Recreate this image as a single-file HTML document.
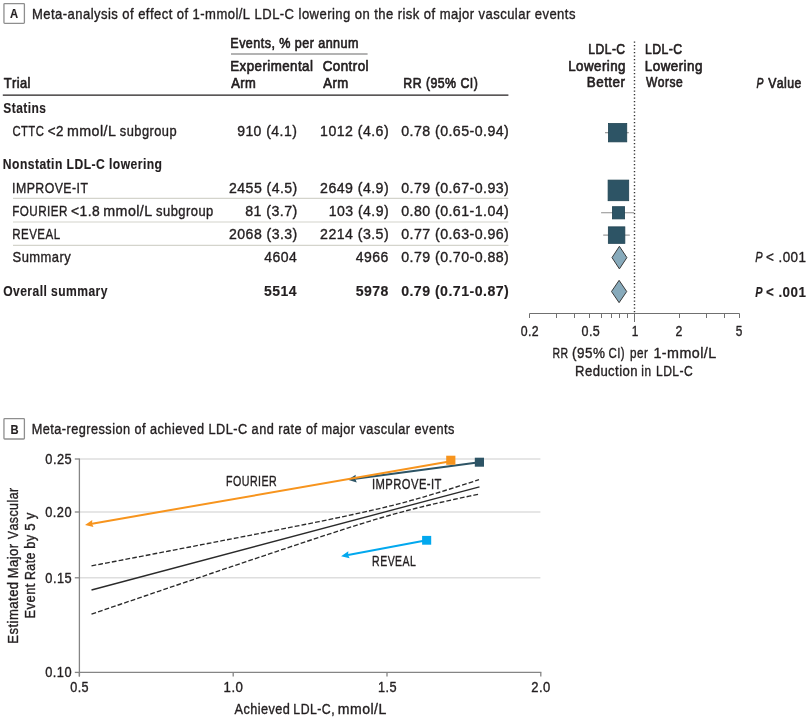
<!DOCTYPE html>
<html><head><meta charset="utf-8"><title>Figure</title>
<style>
html,body{margin:0;padding:0;background:#fff;}
body{width:810px;height:721px;overflow:hidden;}
svg{display:block;font-family:"Liberation Sans",sans-serif;font-kerning:none;font-variant-ligatures:none;will-change:transform;}
text{font-kerning:none;}
</style></head><body>
<svg width="810" height="721" viewBox="0 0 810 721">
<rect width="810" height="721" fill="#fff"/>
<rect x="3.95" y="3.55" width="20.45" height="19.85" rx="0.8" fill="none" stroke="#8e8e8e" stroke-width="1.3"/>
<text transform="scale(0.8336,1)" x="12.11" y="18.10" font-size="13.5" font-weight="bold" font-style="normal" letter-spacing="0.000" fill="#231f20" stroke="#231f20" stroke-width="0.15" stroke-linejoin="round">A</text>
<text transform="scale(0.8808,1)" x="36.36" y="18.60" font-size="14.8" font-weight="normal" font-style="normal" letter-spacing="0.511" fill="#231f20" stroke="#231f20" stroke-width="0.38" stroke-linejoin="round">Meta-analysis of effect of 1-mmol/L LDL-C lowering on the risk of major vascular events</text>
<text transform="scale(0.8372,1)" x="275.12" y="48.40" font-size="15" font-weight="normal" font-style="normal" letter-spacing="0.538" fill="#231f20" stroke="#231f20" stroke-width="0.7" stroke-linejoin="round">Events, % per annum</text>
<line x1="231" y1="54" x2="367.6" y2="54" stroke="#9a9a9a" stroke-width="1.5"/>
<text transform="scale(0.8880,1)" x="259.30" y="70.60" font-size="15" font-weight="normal" font-style="normal" letter-spacing="0.507" fill="#231f20" stroke="#231f20" stroke-width="0.7" stroke-linejoin="round">Experimental</text>
<text transform="scale(0.8929,1)" x="361.37" y="70.60" font-size="15" font-weight="normal" font-style="normal" letter-spacing="0.504" fill="#231f20" stroke="#231f20" stroke-width="0.7" stroke-linejoin="round">Control</text>
<text transform="scale(0.8611,1)" x="268.63" y="87.60" font-size="15" font-weight="normal" font-style="normal" letter-spacing="0.523" fill="#231f20" stroke="#231f20" stroke-width="0.7" stroke-linejoin="round">Arm</text>
<text transform="scale(0.8762,1)" x="368.99" y="87.60" font-size="15" font-weight="normal" font-style="normal" letter-spacing="0.514" fill="#231f20" stroke="#231f20" stroke-width="0.7" stroke-linejoin="round">Arm</text>
<text transform="scale(0.8589,1)" x="4.26" y="87.70" font-size="15" font-weight="normal" font-style="normal" letter-spacing="0.524" fill="#231f20" stroke="#231f20" stroke-width="0.7" stroke-linejoin="round">Trial</text>
<text transform="scale(0.8232,1)" x="489.99" y="88.00" font-size="15" font-weight="normal" font-style="normal" letter-spacing="0.547" fill="#231f20" stroke="#231f20" stroke-width="0.7" stroke-linejoin="round">RR (95% CI)</text>
<line x1="2.8" y1="95.2" x2="508.4" y2="95.2" stroke="#231f20" stroke-width="1.3"/>
<text transform="scale(0.7996,1)" x="4.16" y="113.50" font-size="15" font-weight="bold" font-style="normal" letter-spacing="0.563" fill="#231f20" stroke="#231f20" stroke-width="0.15" stroke-linejoin="round">Statins</text>
<text transform="scale(0.7622,1)" x="16.29" y="136.50" font-size="14.8" font-weight="normal" font-style="normal" letter-spacing="0.590" fill="#231f20" stroke="#231f20" stroke-width="0.38" stroke-linejoin="round">CTTC</text>
<text transform="scale(0.9072,1)" x="52.72" y="136.50" font-size="14.8" font-weight="normal" font-style="normal" letter-spacing="0.496" fill="#231f20" stroke="#231f20" stroke-width="0.38" stroke-linejoin="round">&lt;2</text>
<text transform="scale(0.9623,1)" x="69.57" y="136.50" font-size="14.8" font-weight="normal" font-style="normal" letter-spacing="0.468" fill="#231f20" stroke="#231f20" stroke-width="0.38" stroke-linejoin="round">mmol/L</text>
<text transform="scale(0.8696,1)" x="137.80" y="136.50" font-size="14.8" font-weight="normal" font-style="normal" letter-spacing="0.517" fill="#231f20" stroke="#231f20" stroke-width="0.38" stroke-linejoin="round">subgroup</text>
<text transform="scale(0.9479,1)" x="250.18" y="136.50" font-size="14.8" font-weight="normal" font-style="normal" letter-spacing="0.475" fill="#231f20" stroke="#231f20" stroke-width="0.38" stroke-linejoin="round">910 (4.1)</text>
<text transform="scale(0.9564,1)" x="334.70" y="136.50" font-size="14.8" font-weight="normal" font-style="normal" letter-spacing="0.471" fill="#231f20" stroke="#231f20" stroke-width="0.38" stroke-linejoin="round">1012 (4.6)</text>
<text transform="scale(0.9581,1)" x="418.77" y="136.50" font-size="14.8" font-weight="normal" font-style="normal" letter-spacing="0.470" fill="#231f20" stroke="#231f20" stroke-width="0.38" stroke-linejoin="round">0.78 (0.65-0.94)</text>
<text transform="scale(0.8087,1)" x="3.54" y="169.40" font-size="15" font-weight="bold" font-style="normal" letter-spacing="0.556" fill="#231f20" stroke="#231f20" stroke-width="0.15" stroke-linejoin="round">Nonstatin LDL-C lowering</text>
<text transform="scale(0.8339,1)" x="14.45" y="192.80" font-size="14.8" font-weight="normal" font-style="normal" letter-spacing="0.540" fill="#231f20" stroke="#231f20" stroke-width="0.38" stroke-linejoin="round">IMPROVE-IT</text>
<text transform="scale(0.9508,1)" x="240.93" y="192.80" font-size="14.8" font-weight="normal" font-style="normal" letter-spacing="0.473" fill="#231f20" stroke="#231f20" stroke-width="0.38" stroke-linejoin="round">2455 (4.5)</text>
<text transform="scale(0.9569,1)" x="334.49" y="192.80" font-size="14.8" font-weight="normal" font-style="normal" letter-spacing="0.470" fill="#231f20" stroke="#231f20" stroke-width="0.38" stroke-linejoin="round">2649 (4.9)</text>
<text transform="scale(0.9581,1)" x="418.77" y="192.80" font-size="14.8" font-weight="normal" font-style="normal" letter-spacing="0.470" fill="#231f20" stroke="#231f20" stroke-width="0.38" stroke-linejoin="round">0.79 (0.67-0.93)</text>
<text transform="scale(0.7886,1)" x="15.51" y="216.40" font-size="14.8" font-weight="normal" font-style="normal" letter-spacing="0.571" fill="#231f20" stroke="#231f20" stroke-width="0.38" stroke-linejoin="round">FOURIER</text>
<text transform="scale(0.9363,1)" x="75.84" y="216.40" font-size="14.8" font-weight="normal" font-style="normal" letter-spacing="0.481" fill="#231f20" stroke="#231f20" stroke-width="0.38" stroke-linejoin="round">&lt;1.8</text>
<text transform="scale(0.9644,1)" x="107.05" y="216.40" font-size="14.8" font-weight="normal" font-style="normal" letter-spacing="0.467" fill="#231f20" stroke="#231f20" stroke-width="0.38" stroke-linejoin="round">mmol/L</text>
<text transform="scale(0.8762,1)" x="178.19" y="216.40" font-size="14.8" font-weight="normal" font-style="normal" letter-spacing="0.514" fill="#231f20" stroke="#231f20" stroke-width="0.38" stroke-linejoin="round">subgroup</text>
<text transform="scale(0.9601,1)" x="255.37" y="216.40" font-size="14.8" font-weight="normal" font-style="normal" letter-spacing="0.469" fill="#231f20" stroke="#231f20" stroke-width="0.38" stroke-linejoin="round">81 (3.7)</text>
<text transform="scale(0.9515,1)" x="345.46" y="216.40" font-size="14.8" font-weight="normal" font-style="normal" letter-spacing="0.473" fill="#231f20" stroke="#231f20" stroke-width="0.38" stroke-linejoin="round">103 (4.9)</text>
<text transform="scale(0.9581,1)" x="418.77" y="216.40" font-size="14.8" font-weight="normal" font-style="normal" letter-spacing="0.470" fill="#231f20" stroke="#231f20" stroke-width="0.38" stroke-linejoin="round">0.80 (0.61-1.04)</text>
<text transform="scale(0.7825,1)" x="15.64" y="239.40" font-size="14.8" font-weight="normal" font-style="normal" letter-spacing="0.575" fill="#231f20" stroke="#231f20" stroke-width="0.38" stroke-linejoin="round">REVEAL</text>
<text transform="scale(0.9508,1)" x="240.93" y="239.40" font-size="14.8" font-weight="normal" font-style="normal" letter-spacing="0.473" fill="#231f20" stroke="#231f20" stroke-width="0.38" stroke-linejoin="round">2068 (3.3)</text>
<text transform="scale(0.9569,1)" x="334.49" y="239.40" font-size="14.8" font-weight="normal" font-style="normal" letter-spacing="0.470" fill="#231f20" stroke="#231f20" stroke-width="0.38" stroke-linejoin="round">2214 (3.5)</text>
<text transform="scale(0.9581,1)" x="418.77" y="239.40" font-size="14.8" font-weight="normal" font-style="normal" letter-spacing="0.470" fill="#231f20" stroke="#231f20" stroke-width="0.38" stroke-linejoin="round">0.77 (0.63-0.96)</text>
<text transform="scale(0.8771,1)" x="14.37" y="262.00" font-size="14.8" font-weight="normal" font-style="normal" letter-spacing="0.513" fill="#231f20" stroke="#231f20" stroke-width="0.38" stroke-linejoin="round">Summary</text>
<text transform="scale(0.9477,1)" x="278.85" y="262.00" font-size="14.8" font-weight="normal" font-style="normal" letter-spacing="0.475" fill="#231f20" stroke="#231f20" stroke-width="0.38" stroke-linejoin="round">4604</text>
<text transform="scale(0.9479,1)" x="375.43" y="262.00" font-size="14.8" font-weight="normal" font-style="normal" letter-spacing="0.475" fill="#231f20" stroke="#231f20" stroke-width="0.38" stroke-linejoin="round">4966</text>
<text transform="scale(0.9581,1)" x="418.77" y="262.00" font-size="14.8" font-weight="normal" font-style="normal" letter-spacing="0.470" fill="#231f20" stroke="#231f20" stroke-width="0.38" stroke-linejoin="round">0.79 (0.70-0.88)</text>
<line x1="13" y1="198.4" x2="508.4" y2="198.4" stroke="#d4d4cc" stroke-width="1.2"/>
<line x1="13" y1="222" x2="508.4" y2="222" stroke="#d4d4cc" stroke-width="1.2"/>
<line x1="13" y1="245.4" x2="508.4" y2="245.4" stroke="#d4d4cc" stroke-width="1.2"/>
<text transform="scale(0.8059,1)" x="3.94" y="295.80" font-size="15" font-weight="bold" font-style="normal" letter-spacing="0.558" fill="#231f20" stroke="#231f20" stroke-width="0.15" stroke-linejoin="round">Overall summary</text>
<text transform="scale(0.9352,1)" x="282.34" y="295.80" font-size="15" font-weight="bold" font-style="normal" letter-spacing="0.481" fill="#231f20" stroke="#231f20" stroke-width="0.15" stroke-linejoin="round">5514</text>
<text transform="scale(0.9400,1)" x="378.34" y="295.80" font-size="15" font-weight="bold" font-style="normal" letter-spacing="0.479" fill="#231f20" stroke="#231f20" stroke-width="0.15" stroke-linejoin="round">5978</text>
<text transform="scale(0.9460,1)" x="424.03" y="295.80" font-size="15" font-weight="bold" font-style="normal" letter-spacing="0.476" fill="#231f20" stroke="#231f20" stroke-width="0.15" stroke-linejoin="round">0.79 (0.71-0.87)</text>
<text transform="scale(0.8064,1)" x="729.62" y="53.60" font-size="15" font-weight="normal" font-style="normal" letter-spacing="0.558" fill="#231f20" stroke="#231f20" stroke-width="0.7" stroke-linejoin="round">LDL-C</text>
<text transform="scale(0.8888,1)" x="639.35" y="71.00" font-size="15" font-weight="normal" font-style="normal" letter-spacing="0.506" fill="#231f20" stroke="#231f20" stroke-width="0.7" stroke-linejoin="round">Lowering</text>
<text transform="scale(0.8939,1)" x="656.52" y="87.40" font-size="15" font-weight="normal" font-style="normal" letter-spacing="0.503" fill="#231f20" stroke="#231f20" stroke-width="0.7" stroke-linejoin="round">Better</text>
<text transform="scale(0.8160,1)" x="790.35" y="53.60" font-size="15" font-weight="normal" font-style="normal" letter-spacing="0.551" fill="#231f20" stroke="#231f20" stroke-width="0.7" stroke-linejoin="round">LDL-C</text>
<text transform="scale(0.8956,1)" x="720.00" y="71.00" font-size="15" font-weight="normal" font-style="normal" letter-spacing="0.502" fill="#231f20" stroke="#231f20" stroke-width="0.7" stroke-linejoin="round">Lowering</text>
<text transform="scale(0.8051,1)" x="802.29" y="87.40" font-size="15" font-weight="normal" font-style="normal" letter-spacing="0.559" fill="#231f20" stroke="#231f20" stroke-width="0.7" stroke-linejoin="round">Worse</text>
<text transform="scale(0.6880,1)" x="1099.53" y="87.80" font-size="15" font-weight="normal" font-style="italic" letter-spacing="0.000" fill="#231f20" stroke="#231f20" stroke-width="0.7" stroke-linejoin="round">P</text>
<text transform="scale(0.8185,1)" x="938.59" y="87.80" font-size="15" font-weight="normal" font-style="normal" letter-spacing="0.550" fill="#231f20" stroke="#231f20" stroke-width="0.7" stroke-linejoin="round">Value</text>
<text transform="scale(0.7423,1)" x="1017.44" y="262.00" font-size="14.8" font-weight="normal" font-style="italic" letter-spacing="0.000" fill="#231f20" stroke="#231f20" stroke-width="0.38" stroke-linejoin="round">P</text>
<text transform="scale(0.9093,1)" x="842.43" y="262.00" font-size="14.8" font-weight="normal" font-style="normal" letter-spacing="0.495" fill="#231f20" stroke="#231f20" stroke-width="0.38" stroke-linejoin="round">&lt; .001</text>
<text transform="scale(0.7323,1)" x="1031.32" y="296.60" font-size="15" font-weight="bold" font-style="italic" letter-spacing="0.000" fill="#231f20" stroke="#231f20" stroke-width="0.15" stroke-linejoin="round">P</text>
<text transform="scale(0.8935,1)" x="857.31" y="296.60" font-size="15" font-weight="bold" font-style="normal" letter-spacing="0.504" fill="#231f20" stroke="#231f20" stroke-width="0.15" stroke-linejoin="round">&lt; .001</text>
<line x1="634.5" y1="41.4" x2="634.5" y2="313.5" stroke="#333" stroke-width="1.4" stroke-dasharray="1.4 2.1"/>
<line x1="529.5" y1="313.5" x2="739.5" y2="313.5" stroke="#707070" stroke-width="1.0"/>
<line x1="529.5" y1="313.5" x2="529.5" y2="318.0" stroke="#707070" stroke-width="1.0"/>
<line x1="556.5" y1="313.5" x2="556.5" y2="318.0" stroke="#707070" stroke-width="1.0"/>
<line x1="574.5" y1="313.5" x2="574.5" y2="318.0" stroke="#707070" stroke-width="1.0"/>
<line x1="589.5" y1="313.5" x2="589.5" y2="318.0" stroke="#707070" stroke-width="1.0"/>
<line x1="601.5" y1="313.5" x2="601.5" y2="318.0" stroke="#707070" stroke-width="1.0"/>
<line x1="611.5" y1="313.5" x2="611.5" y2="318.0" stroke="#707070" stroke-width="1.0"/>
<line x1="619.5" y1="313.5" x2="619.5" y2="318.0" stroke="#707070" stroke-width="1.0"/>
<line x1="627.5" y1="313.5" x2="627.5" y2="318.0" stroke="#707070" stroke-width="1.0"/>
<line x1="634.5" y1="313.5" x2="634.5" y2="322.0" stroke="#707070" stroke-width="1.0"/>
<line x1="679.5" y1="313.5" x2="679.5" y2="318.0" stroke="#707070" stroke-width="1.0"/>
<line x1="706.5" y1="313.5" x2="706.5" y2="318.0" stroke="#707070" stroke-width="1.0"/>
<line x1="724.5" y1="313.5" x2="724.5" y2="318.0" stroke="#707070" stroke-width="1.0"/>
<line x1="739.5" y1="313.5" x2="739.5" y2="318.0" stroke="#707070" stroke-width="1.0"/>
<text transform="scale(0.8321,1)" x="625.75" y="335.80" font-size="14.8" font-weight="normal" font-style="normal" letter-spacing="0.541" fill="#231f20" stroke="#231f20" stroke-width="0.38" stroke-linejoin="round">0.2</text>
<text transform="scale(0.8475,1)" x="686.13" y="335.80" font-size="14.8" font-weight="normal" font-style="normal" letter-spacing="0.531" fill="#231f20" stroke="#231f20" stroke-width="0.38" stroke-linejoin="round">0.5</text>
<text transform="scale(0.8024,1)" x="787.39" y="335.80" font-size="14.8" font-weight="normal" font-style="normal" letter-spacing="0.000" fill="#231f20" stroke="#231f20" stroke-width="0.38" stroke-linejoin="round">1</text>
<text transform="scale(0.8335,1)" x="810.49" y="335.80" font-size="14.8" font-weight="normal" font-style="normal" letter-spacing="0.000" fill="#231f20" stroke="#231f20" stroke-width="0.38" stroke-linejoin="round">2</text>
<text transform="scale(0.8009,1)" x="918.60" y="335.80" font-size="14.8" font-weight="normal" font-style="normal" letter-spacing="0.000" fill="#231f20" stroke="#231f20" stroke-width="0.38" stroke-linejoin="round">5</text>
<text transform="scale(0.7122,1)" x="775.69" y="358.20" font-size="14.8" font-weight="normal" font-style="normal" letter-spacing="0.632" fill="#231f20" stroke="#231f20" stroke-width="0.38" stroke-linejoin="round">RR</text>
<text transform="scale(0.9113,1)" x="627.81" y="358.20" font-size="14.8" font-weight="normal" font-style="normal" letter-spacing="0.494" fill="#231f20" stroke="#231f20" stroke-width="0.38" stroke-linejoin="round">(95%</text>
<text transform="scale(0.7763,1)" x="783.82" y="358.20" font-size="14.8" font-weight="normal" font-style="normal" letter-spacing="0.580" fill="#231f20" stroke="#231f20" stroke-width="0.38" stroke-linejoin="round">CI)</text>
<text transform="scale(0.7934,1)" x="794.07" y="358.20" font-size="14.8" font-weight="normal" font-style="normal" letter-spacing="0.567" fill="#231f20" stroke="#231f20" stroke-width="0.38" stroke-linejoin="round">per</text>
<text transform="scale(0.9669,1)" x="675.79" y="358.20" font-size="14.8" font-weight="normal" font-style="normal" letter-spacing="0.465" fill="#231f20" stroke="#231f20" stroke-width="0.38" stroke-linejoin="round">1-mmol/L</text>
<text transform="scale(0.8860,1)" x="648.99" y="376.20" font-size="14.8" font-weight="normal" font-style="normal" letter-spacing="0.508" fill="#231f20" stroke="#231f20" stroke-width="0.38" stroke-linejoin="round">Reduction</text>
<text transform="scale(0.8016,1)" x="800.11" y="376.20" font-size="14.8" font-weight="normal" font-style="normal" letter-spacing="0.561" fill="#231f20" stroke="#231f20" stroke-width="0.38" stroke-linejoin="round">in</text>
<text transform="scale(0.8178,1)" x="802.17" y="376.20" font-size="14.8" font-weight="normal" font-style="normal" letter-spacing="0.550" fill="#231f20" stroke="#231f20" stroke-width="0.38" stroke-linejoin="round">LDL-C</text>
<line x1="605" y1="132.7" x2="628.8" y2="132.7" stroke="#8e8e8e" stroke-width="1.1"/>
<rect x="608.45" y="123.55" width="18.3" height="18.3" fill="#2d5465" stroke="#1f4251" stroke-width="0.8"/>
<rect x="608.10" y="180.10" width="20.6" height="20.6" fill="#2d5465" stroke="#1f4251" stroke-width="0.8"/>
<line x1="601.1" y1="212.8" x2="634.2" y2="212.8" stroke="#8e8e8e" stroke-width="1.1"/>
<rect x="612.40" y="206.70" width="12.2" height="12.2" fill="#2d5465" stroke="#1f4251" stroke-width="0.8"/>
<line x1="603.2" y1="235.1" x2="629.8" y2="235.1" stroke="#8e8e8e" stroke-width="1.1"/>
<rect x="608.35" y="226.85" width="16.5" height="16.5" fill="#2d5465" stroke="#1f4251" stroke-width="0.8"/>
<polygon points="612,257.6 619.4,246.3 626.9,257.6 619.4,268.90000000000003" fill="#87aabb" stroke="#3a3a3a" stroke-width="1"/>
<polygon points="611.5,291.5 619.1,280.35 626.7,291.5 619.1,302.65" fill="#87aabb" stroke="#3a3a3a" stroke-width="1"/>
<rect x="3.95" y="418.6" width="20.45" height="20.4" rx="0.8" fill="none" stroke="#8e8e8e" stroke-width="1.3"/>
<text transform="scale(0.8320,1)" x="12.53" y="433.70" font-size="13.5" font-weight="bold" font-style="normal" letter-spacing="0.000" fill="#231f20" stroke="#231f20" stroke-width="0.15" stroke-linejoin="round">B</text>
<text transform="scale(0.8617,1)" x="36.84" y="434.00" font-size="14.8" font-weight="normal" font-style="normal" letter-spacing="0.522" fill="#231f20" stroke="#231f20" stroke-width="0.38" stroke-linejoin="round">Meta-regression of achieved LDL-C and rate of major vascular events</text>
<line x1="79.4" y1="459" x2="540.4" y2="459" stroke="#dedede" stroke-width="1.6"/>
<line x1="79.4" y1="512" x2="540.4" y2="512" stroke="#dedede" stroke-width="1.6"/>
<line x1="79.4" y1="577.8" x2="540.4" y2="577.8" stroke="#dedede" stroke-width="1.6"/>
<line x1="79.4" y1="458.5" x2="79.4" y2="676.5" stroke="#858585" stroke-width="1.3"/>
<line x1="79.4" y1="672.4" x2="541.4" y2="672.4" stroke="#858585" stroke-width="1.3"/>
<line x1="74.8" y1="459" x2="79.4" y2="459" stroke="#858585" stroke-width="1.3"/>
<line x1="74.8" y1="512" x2="79.4" y2="512" stroke="#858585" stroke-width="1.3"/>
<line x1="74.8" y1="577.8" x2="79.4" y2="577.8" stroke="#858585" stroke-width="1.3"/>
<line x1="74.8" y1="672.4" x2="79.4" y2="672.4" stroke="#858585" stroke-width="1.3"/>
<line x1="79.4" y1="672.4" x2="79.4" y2="676.5" stroke="#858585" stroke-width="1.3"/>
<line x1="233.2" y1="672.4" x2="233.2" y2="676.5" stroke="#858585" stroke-width="1.3"/>
<line x1="387.0" y1="672.4" x2="387.0" y2="676.5" stroke="#858585" stroke-width="1.3"/>
<line x1="540.8" y1="672.4" x2="540.8" y2="676.5" stroke="#858585" stroke-width="1.3"/>
<text transform="scale(0.8683,1)" x="52.16" y="464.00" font-size="14.8" font-weight="normal" font-style="normal" letter-spacing="0.518" fill="#231f20" stroke="#231f20" stroke-width="0.38" stroke-linejoin="round">0.25</text>
<text transform="scale(0.8669,1)" x="52.24" y="516.80" font-size="14.8" font-weight="normal" font-style="normal" letter-spacing="0.519" fill="#231f20" stroke="#231f20" stroke-width="0.38" stroke-linejoin="round">0.20</text>
<text transform="scale(0.8683,1)" x="52.16" y="582.80" font-size="14.8" font-weight="normal" font-style="normal" letter-spacing="0.518" fill="#231f20" stroke="#231f20" stroke-width="0.38" stroke-linejoin="round">0.15</text>
<text transform="scale(0.8669,1)" x="52.24" y="677.00" font-size="14.8" font-weight="normal" font-style="normal" letter-spacing="0.519" fill="#231f20" stroke="#231f20" stroke-width="0.38" stroke-linejoin="round">0.10</text>
<text transform="scale(0.8527,1)" x="82.33" y="691.70" font-size="14.8" font-weight="normal" font-style="normal" letter-spacing="0.528" fill="#231f20" stroke="#231f20" stroke-width="0.38" stroke-linejoin="round">0.5</text>
<text transform="scale(0.8967,1)" x="249.33" y="691.70" font-size="14.8" font-weight="normal" font-style="normal" letter-spacing="0.502" fill="#231f20" stroke="#231f20" stroke-width="0.38" stroke-linejoin="round">1.0</text>
<text transform="scale(0.8616,1)" x="438.73" y="691.70" font-size="14.8" font-weight="normal" font-style="normal" letter-spacing="0.522" fill="#231f20" stroke="#231f20" stroke-width="0.38" stroke-linejoin="round">1.5</text>
<text transform="scale(0.8789,1)" x="604.55" y="691.70" font-size="14.8" font-weight="normal" font-style="normal" letter-spacing="0.512" fill="#231f20" stroke="#231f20" stroke-width="0.38" stroke-linejoin="round">2.0</text>
<text transform="scale(0.8593,1)" x="272.87" y="714.40" font-size="14.8" font-weight="normal" font-style="normal" letter-spacing="0.524" fill="#231f20" stroke="#231f20" stroke-width="0.38" stroke-linejoin="round">Achieved</text>
<text transform="scale(0.8316,1)" x="352.78" y="714.40" font-size="14.8" font-weight="normal" font-style="normal" letter-spacing="0.541" fill="#231f20" stroke="#231f20" stroke-width="0.38" stroke-linejoin="round">LDL-C,</text>
<text transform="scale(0.9516,1)" x="355.02" y="714.40" font-size="14.8" font-weight="normal" font-style="normal" letter-spacing="0.473" fill="#231f20" stroke="#231f20" stroke-width="0.38" stroke-linejoin="round">mmol/L</text>
<text transform="rotate(-90) scale(0.8847,1)" x="-727.56" y="18.20" font-size="14.8" letter-spacing="0.509" fill="#231f20" stroke="#231f20" stroke-width="0.38" stroke-linejoin="round">Estimated</text>
<text transform="rotate(-90) scale(0.8833,1)" x="-654.77" y="18.20" font-size="14.8" letter-spacing="0.509" fill="#231f20" stroke="#231f20" stroke-width="0.38" stroke-linejoin="round">Major</text>
<text transform="rotate(-90) scale(0.8355,1)" x="-645.30" y="18.20" font-size="14.8" letter-spacing="0.539" fill="#231f20" stroke="#231f20" stroke-width="0.38" stroke-linejoin="round">Vascular</text>
<text transform="rotate(-90) scale(0.8762,1)" x="-705.88" y="34.60" font-size="14.8" letter-spacing="0.514" fill="#231f20" stroke="#231f20" stroke-width="0.38" stroke-linejoin="round">Event</text>
<text transform="rotate(-90) scale(0.8421,1)" x="-688.89" y="34.60" font-size="14.8" letter-spacing="0.534" fill="#231f20" stroke="#231f20" stroke-width="0.38" stroke-linejoin="round">Rate</text>
<text transform="rotate(-90) scale(0.8568,1)" x="-640.57" y="34.60" font-size="14.8" letter-spacing="0.525" fill="#231f20" stroke="#231f20" stroke-width="0.38" stroke-linejoin="round">by</text>
<text transform="rotate(-90) scale(0.8978,1)" x="-591.13" y="34.60" font-size="14.8" letter-spacing="0.000" fill="#231f20" stroke="#231f20" stroke-width="0.38" stroke-linejoin="round">5</text>
<text transform="rotate(-90) scale(0.8862,1)" x="-585.82" y="34.60" font-size="14.8" letter-spacing="0.000" fill="#231f20" stroke="#231f20" stroke-width="0.38" stroke-linejoin="round">y</text>
<polyline points="91.5,590 479.5,486.8" fill="none" stroke="#2a2a2a" stroke-width="1.35"/>
<polyline points="91.5,565.86 96.34,564.93 101.19,564.01 106.03,563.08 110.88,562.15 115.72,561.22 120.56,560.29 125.41,559.36 130.25,558.43 135.09,557.51 139.94,556.58 144.78,555.65 149.62,554.72 154.47,553.78 159.31,552.85 164.16,551.92 169.0,550.99 173.84,550.06 178.69,549.13 183.53,548.19 188.38,547.26 193.22,546.32 198.06,545.39 202.91,544.45 207.75,543.52 212.59,542.58 217.44,541.64 222.28,540.7 227.12,539.76 231.97,538.82 236.81,537.88 241.66,536.94 246.5,536.0 251.34,535.05 256.19,534.1 261.03,533.16 265.88,532.21 270.72,531.26 275.56,530.3 280.41,529.35 285.25,528.39 290.09,527.43 294.94,526.46 299.78,525.5 304.62,524.53 309.47,523.55 314.31,522.57 319.16,521.59 324.0,520.6 328.84,519.6 333.69,518.6 338.53,517.59 343.38,516.57 348.22,515.54 353.06,514.5 357.91,513.45 362.75,512.38 367.59,511.29 372.44,510.19 377.28,509.06 382.12,507.91 386.97,506.74 391.81,505.54 396.66,504.32 401.5,503.06 406.34,501.78 411.19,500.46 416.03,499.11 420.88,497.74 425.72,496.34 430.56,494.91 435.41,493.46 440.25,492.0 445.09,490.51 449.94,489.0 454.78,487.48 459.62,485.95 464.47,484.4 469.31,482.85 474.16,481.28 479.0,479.71" fill="none" stroke="#2a2a2a" stroke-width="1.35" stroke-dasharray="4.8 2.1"/>
<polyline points="91.5,614.14 96.34,612.49 101.19,610.84 106.03,609.19 110.88,607.54 115.72,605.89 120.56,604.25 125.41,602.6 130.25,600.95 135.09,599.3 139.94,597.66 144.78,596.01 149.62,594.36 154.47,592.72 159.31,591.07 164.16,589.43 169.0,587.78 173.84,586.14 178.69,584.49 183.53,582.85 188.38,581.21 193.22,579.57 198.06,577.92 202.91,576.28 207.75,574.64 212.59,573.0 217.44,571.36 222.28,569.73 227.12,568.09 231.97,566.45 236.81,564.82 241.66,563.18 246.5,561.55 251.34,559.92 256.19,558.29 261.03,556.66 265.88,555.03 270.72,553.41 275.56,551.78 280.41,550.16 285.25,548.54 290.09,546.93 294.94,545.32 299.78,543.71 304.62,542.1 309.47,540.5 314.31,538.9 319.16,537.31 324.0,535.72 328.84,534.14 333.69,532.56 338.53,531.0 343.38,529.44 348.22,527.89 353.06,526.36 357.91,524.84 362.75,523.33 367.59,521.84 372.44,520.37 377.28,518.91 382.12,517.48 386.97,516.08 391.81,514.7 396.66,513.35 401.5,512.03 406.34,510.74 411.19,509.48 416.03,508.25 420.88,507.05 425.72,505.87 430.56,504.72 435.41,503.59 440.25,502.48 445.09,501.4 449.94,500.32 454.78,499.27 459.62,498.22 464.47,497.19 469.31,496.17 474.16,495.16 479.0,494.15" fill="none" stroke="#2a2a2a" stroke-width="1.35" stroke-dasharray="4.8 2.1"/>
<line x1="479.4" y1="462.2" x2="355.33" y2="478.75" stroke="#2d5465" stroke-width="2"/>
<polygon points="347.8,479.75 355.72,474.86 355.33,478.75 356.73,482.39" fill="#2d5465"/>
<rect x="474.8" y="457.7" width="9.2" height="9" fill="#2d5465"/>
<line x1="450.8" y1="461.3" x2="92.00" y2="523.68" stroke="#f7941d" stroke-width="2"/>
<polygon points="85,524.9 92.28,520.08 92.00,523.68 93.48,526.98" fill="#f7941d"/>
<rect x="446.2" y="455.7" width="9.2" height="9.1" fill="#f7941d"/>
<line x1="426.6" y1="540.3" x2="348.08" y2="554.90" stroke="#02a8ee" stroke-width="2"/>
<polygon points="341.1,556.2 348.33,551.30 348.08,554.90 349.61,558.18" fill="#02a8ee"/>
<rect x="422.1" y="535.9" width="9.1" height="8.8" fill="#02a8ee"/>
<text transform="scale(0.7206,1)" x="313.80" y="485.60" font-size="14.8" font-weight="normal" font-style="normal" letter-spacing="0.625" fill="#231f20" stroke="#231f20" stroke-width="0.38" stroke-linejoin="round">FOURIER</text>
<text transform="scale(0.7594,1)" x="489.78" y="489.00" font-size="14.8" font-weight="normal" font-style="normal" letter-spacing="0.593" fill="#231f20" stroke="#231f20" stroke-width="0.38" stroke-linejoin="round">IMPROVE-IT</text>
<text transform="scale(0.7120,1)" x="522.65" y="565.70" font-size="14.8" font-weight="normal" font-style="normal" letter-spacing="0.632" fill="#231f20" stroke="#231f20" stroke-width="0.38" stroke-linejoin="round">REVEAL</text>
</svg>
</body></html>
